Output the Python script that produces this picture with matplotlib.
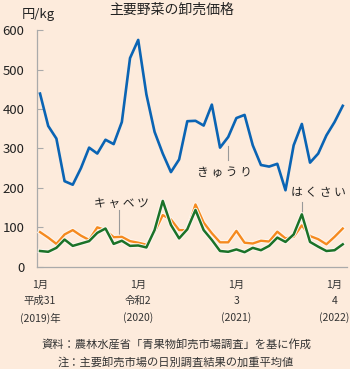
import matplotlib.pyplot as plt
import matplotlib.patheffects as pe

plt.rcParams['font.family'] = ['Noto Sans CJK JP', 'DejaVu Sans']

# monthly wholesale prices (yen/kg), Jan 2019 - Feb 2022
kyuri = [439, 357, 325, 217, 208, 250, 302, 287, 322, 311, 367, 529, 575,
         437, 342, 287, 240, 272, 369, 370, 358, 411, 302, 329, 377, 385,
         308, 258, 254, 261, 194, 308, 362, 264, 287, 333, 367, 408]
cabbage = [88, 74, 58, 82, 93, 79, 68, 100, 93, 75, 76, 65, 61,
           56, 88, 131, 120, 93, 93, 158, 112, 85, 62, 62, 91, 61,
           59, 66, 64, 89, 72, 76, 105, 78, 70, 57, 76, 97]
hakusai = [40, 38, 48, 69, 53, 59, 65, 86, 97, 58, 66, 53, 54,
           49, 93, 167, 106, 72, 95, 144, 93, 68, 40, 38, 44, 37,
           48, 42, 53, 74, 63, 82, 133, 63, 51, 40, 42, 57]

tick_pos = [0, 12, 24, 36]
tick_labels = ['1月\n平成31\n(2019)年', '1月\n令和2\n(2020)', '1月\n3\n(2021)', '1月\n4\n(2022)']
y_ticks = [0, 100, 200, 300, 400, 500, 600]

bg = '#fdebdc'
fig = plt.figure(figsize=(3.5, 3.69), dpi=100, facecolor=bg)
ax = fig.add_axes([0.105, 0.277, 0.886, 0.6415], facecolor=bg)

x = list(range(len(kyuri)))
halo = [pe.withStroke(linewidth=3.2, foreground='#fff6ee')]
ax.plot(x, cabbage, color='#f58a1f', lw=1.7, path_effects=halo, zorder=3)
ax.plot(x, hakusai, color='#1b7228', lw=1.8, path_effects=halo, zorder=4)
ax.plot(x, kyuri, color='#0a64b4', lw=1.9, zorder=5)

ax.set_xlim(-0.4, 37.5)
ax.set_ylim(0, 600)
for s in ['top', 'right']:
    ax.spines[s].set_visible(False)
for s in ['left', 'bottom']:
    ax.spines[s].set_color('#aaaaaa')
    ax.spines[s].set_linewidth(0.9)

ax.set_yticks(y_ticks)
ax.set_yticklabels([str(v) for v in y_ticks], fontsize=9.5, color='#222222')
ax.tick_params(axis='y', direction='in', length=4, color='#aaaaaa', pad=9)
ax.set_xticks(tick_pos)
ax.set_xticklabels(tick_labels, fontsize=7.5, color='#333333')
ax.tick_params(axis='x', length=0, pad=9.5)
for lbl in ax.get_xticklabels():
    lbl.set_linespacing(1.75)

# series labels with leader lines
ax.text(22.6, 237, 'き ゅ う り', fontsize=8.5, ha='center', va='center', color='#222222')
ax.plot([23.0, 23.0], [270, 305], color='#999999', lw=0.8)
ax.text(9.9, 161, 'キ ャ ベ ツ', fontsize=8.5, ha='center', va='center', color='#222222')
ax.plot([9.66, 9.66], [80, 143], color='#999999', lw=0.8)
ax.text(34.0, 187, 'は く さ い', fontsize=8.5, ha='center', va='center', color='#222222')
ax.plot([32.0, 32.0], [136, 165], color='#999999', lw=0.8)

fig.text(0.49, 0.973, '主要野菜の卸売価格', fontsize=10, ha='center', va='center', color='#222222')
fig.text(0.063, 0.962, '円/kg', fontsize=9.5, ha='left', va='center', color='#222222')
fig.text(0.503, 0.068, '資料：農林水産省「青果物卸売市場調査」を基に作成', fontsize=8.1,
         ha='center', va='center', color='#333333')
fig.text(0.503, 0.017, '注：主要卸売市場の日別調査結果の加重平均値', fontsize=8.1,
         ha='center', va='center', color='#333333')

fig.savefig('out.png', dpi=100, facecolor=bg)
